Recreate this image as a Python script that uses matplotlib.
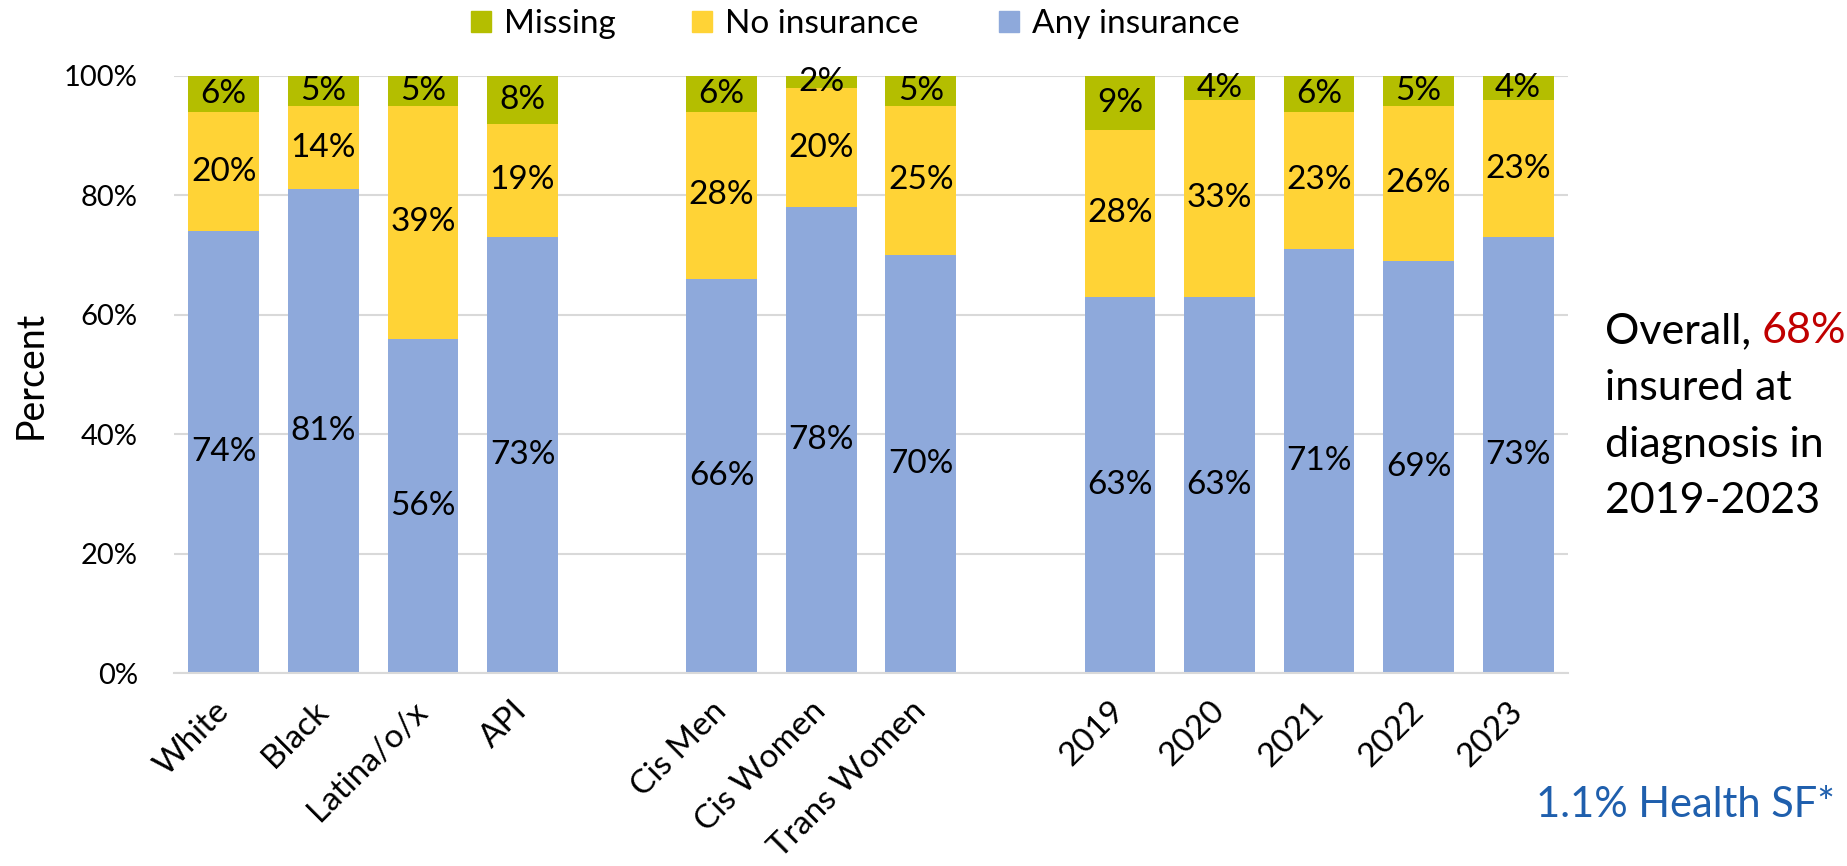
import numpy as np
import matplotlib
matplotlib.use('Agg')
import matplotlib.pyplot as plt
from matplotlib.patches import Patch

plt.rcParams['font.family'] = ['Lato', 'DejaVu Sans']

# данные
groups = [
    ['White', 'Black', 'Latina/o/x', 'API'],
    ['Cis Men', 'Cis Women', 'Trans Women'],
    ['2019', '2020', '2021', '2022', '2023'],
]
any_ins = [74, 81, 56, 73, 66, 78, 70, 63, 63, 71, 69, 73]
no_ins = [20, 14, 39, 19, 28, 20, 25, 28, 33, 23, 26, 23]
missing = [6, 5, 5, 8, 6, 2, 5, 9, 4, 6, 5, 4]

c_any = '#8EA9DB'
c_no = '#FFD336'
c_miss = '#B4BE00'

# позиции: пустой слот между группами
labels = []
pos = []
k = 0
for g in groups:
    for name in g:
        labels.append(name)
        pos.append(k)
        k += 1
    k += 1
pos = np.array(pos)
n_slots = pos[-1] + 1

fig = plt.figure(figsize=(18.47, 8.66), dpi=100)
ax = fig.add_axes([174 / 1847, 1 - 673 / 866, (1568 - 174) / 1847, (673 - 76) / 866])

w = 0.71
b1 = ax.bar(pos, any_ins, w, color=c_any)
b2 = ax.bar(pos, no_ins, w, bottom=any_ins, color=c_no)
b3 = ax.bar(pos, missing, w, bottom=np.array(any_ins) + np.array(no_ins), color=c_miss)

fs_lab = 24
for b in [b1, b2, b3]:
    ax.bar_label(b, fmt='{:.0f}%', label_type='center', fontsize=fs_lab, color='black')

ax.set_xlim(-0.5, n_slots - 0.5)
ax.set_ylim(0, 100)
ax.set_yticks(np.arange(0, 101, 20))
ax.set_yticklabels([f'{v}%' for v in range(0, 101, 20)], fontsize=21)
ax.yaxis.grid(True, color='#D9D9D9', linewidth=1.5)
ax.set_axisbelow(True)
for s in ['top', 'right', 'left']:
    ax.spines[s].set_visible(False)
ax.spines['bottom'].set_color('#D9D9D9')
ax.spines['bottom'].set_linewidth(1.5)
ax.tick_params(axis='y', length=0, pad=26)
ax.tick_params(axis='x', length=0, pad=24)

ax.set_xticks(pos)
ax.set_xticklabels(labels, rotation=45, ha='right', va='center', rotation_mode='anchor', fontsize=24)

ax.set_ylabel('Percent', fontsize=27)
ax.yaxis.set_label_coords(-0.09, 0.5)

# легенда
items = [('Missing', c_miss, 471), ('No insurance', c_no, 692), ('Any insurance', c_any, 999)]
for name, c, x0 in items:
    leg = fig.legend(handles=[Patch(color=c, label=name)], loc='center left',
                     bbox_to_anchor=(x0 / 1847, 1 - 24 / 866), frameon=False,
                     fontsize=24, handlelength=0.6, handleheight=0.6,
                     handletextpad=0.4, borderpad=0, borderaxespad=0)

# текст справа
fs2 = 31
t0 = fig.text(1605 / 1847, 1 - 343 / 866, 'Overall, ', fontsize=fs2, va='baseline', ha='left')
fig.canvas.draw()
bb = t0.get_window_extent()
fig.text(bb.x1 / 1847, 1 - 343 / 866, '68%', fontsize=fs2, va='baseline', ha='left', color='#C00000')
fig.text(1605 / 1847, 1 - 400 / 866, 'insured at', fontsize=fs2, va='baseline')
fig.text(1605 / 1847, 1 - 457 / 866, 'diagnosis in', fontsize=fs2, va='baseline')
fig.text(1605 / 1847, 1 - 513 / 866, '2019-2023', fontsize=fs2, va='baseline')

fig.text(1835 / 1847, 1 - 817 / 866, '1.1% Health SF*', fontsize=30, va='baseline', ha='right',
         color='#1F5FAD')

fig.savefig('out.png', dpi=100)
